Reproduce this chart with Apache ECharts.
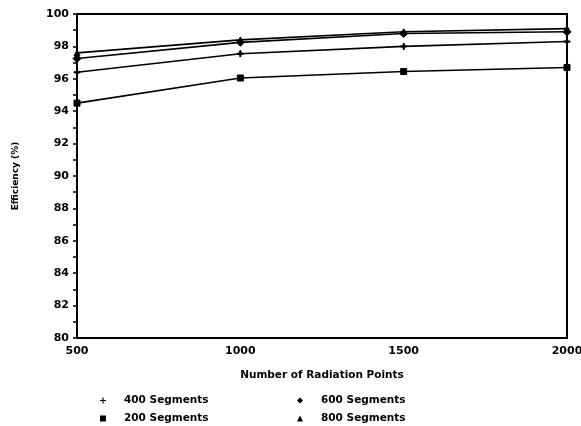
<!DOCTYPE html>
<html>
<head>
<meta charset="utf-8">
<script src="https://cdn.jsdelivr.net/npm/echarts@6/dist/echarts.min.js"></script>
<style>
  body { margin: 0; background: #fff; }
  #chart { width: 581px; height: 426px; }
</style>
</head>
<body>
<div id="chart"></div>
<script>
  // values
  var points = [500, 1000, 1500, 2000];
  var seg400 = [96.4, 97.55, 98.0, 98.3];
  var seg200 = [94.5, 96.05, 96.45, 96.7];
  var seg600 = [97.25, 98.25, 98.8, 98.9];
  var seg800 = [97.6, 98.4, 98.9, 99.1];

  var plusPath = 'path://M4,0h2v4h4v2h-4v4h-2v-4h-4v-2h4z';
  var font = 'DejaVu Sans';

  function pairs(vals) {
    return vals.map(function (v, i) { return [points[i], v]; });
  }

  function line(name, vals, symbol, size) {
    return {
      name: name,
      type: 'line',
      data: pairs(vals),
      symbol: symbol,
      symbolSize: size,
      showSymbol: true,
      lineStyle: { color: '#000', width: 1.6 },
      itemStyle: { color: '#000', borderColor: '#000' },
      emphasis: { disabled: true },
      animation: false
    };
  }

  function legendItem(name, icon, left, top) {
    return {
      data: [name],
      icon: icon,
      left: left, top: top,
      padding: 0,
      itemWidth: 6, itemHeight: 6,
      selectedMode: false,
      textStyle: { color: '#000', fontSize: 10.5, fontWeight: 'bold', fontFamily: font, padding: [0, 0, 0, 13] }
    };
  }

  var mychart = echarts.init(document.getElementById('chart'));
  var option = {
    backgroundColor: '#fff',
    textStyle: { fontFamily: font },
    grid: {
      left: 77, right: 14, top: 14, bottom: 88,
      outerBoundsMode: 'none',
      show: true, borderColor: '#000', borderWidth: 2
    },
    xAxis: {
      type: 'value',
      min: 500, max: 2000, interval: 500,
      name: 'Number of Radiation Points',
      nameLocation: 'middle',
      nameGap: 32,
      nameTextStyle: { color: '#000', fontSize: 10.5, fontWeight: 'bold', fontFamily: font },
      axisLine: { lineStyle: { color: '#000', width: 2 } },
      axisTick: { show: false },
      axisLabel: {
        color: '#000', fontSize: 11, fontWeight: 'bold', fontFamily: font, margin: 8,
        formatter: function (v) { return String(v); }
      },
      splitLine: { show: false }
    },
    yAxis: {
      type: 'value',
      min: 80, max: 100, interval: 2,
      name: 'Efficiency (%)',
      nameLocation: 'middle',
      nameGap: 57,
      nameTextStyle: { color: '#000', fontSize: 9, fontWeight: 'bold', fontFamily: font },
      axisLine: { lineStyle: { color: '#000', width: 2 } },
      axisTick: { show: true, inside: false, length: 4, lineStyle: { color: '#000', width: 1.5 } },
      minorTick: { show: true, splitNumber: 2, length: 4, lineStyle: { color: '#000', width: 1.5 } },
      axisLabel: { color: '#000', fontSize: 11, fontWeight: 'bold', fontFamily: font, margin: 8 },
      splitLine: { show: false }
    },
    legend: [
      legendItem('400 Segments', plusPath, 100, 395),
      legendItem('200 Segments', 'rect', 100, 413),
      legendItem('600 Segments', 'diamond', 297, 395),
      legendItem('800 Segments', 'triangle', 297, 413)
    ],
    series: [
      line('400 Segments', seg400, plusPath, 6),
      line('200 Segments', seg200, 'rect', 6),
      line('600 Segments', seg600, 'diamond', 8),
      line('800 Segments', seg800, 'triangle', 6)
    ]
  };
  mychart.setOption(option);
</script>
</body>
</html>
